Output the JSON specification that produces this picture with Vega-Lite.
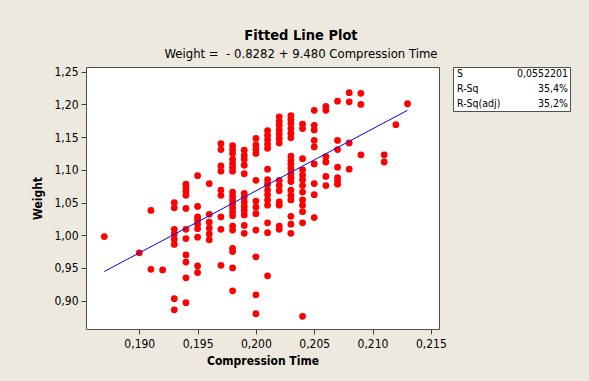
{
  "$schema": "https://vega.github.io/schema/vega-lite/v6.json",
  "autosize": {"type": "none"},
  "padding": {"left": 86, "top": 67, "right": 503, "bottom": 314},
  "background": "#EDE9DF",
  "title": {
    "text": "Fitted Line Plot",
    "subtitle": "Weight = \u00a0- 0.8282 + 9.480 Compression Time",
    "anchor": "middle",
    "frame": "bounds",
    "font": "DejaVu Sans Condensed",
    "fontSize": 14.5,
    "fontWeight": "bold",
    "color": "#000000",
    "subtitleFont": "DejaVu Sans Condensed",
    "subtitleFontSize": 13,
    "subtitleColor": "#000000",
    "subtitlePadding": 5,
    "offset": 3
  },
  "datasets": {
    "points": [
      {"CompressionTime": 0.187, "Weight": 0.998},
      {"CompressionTime": 0.190, "Weight": 0.973},
      {"CompressionTime": 0.191, "Weight": 1.038},
      {"CompressionTime": 0.191, "Weight": 0.948},
      {"CompressionTime": 0.192, "Weight": 0.947},
      {"CompressionTime": 0.193, "Weight": 1.050},
      {"CompressionTime": 0.193, "Weight": 1.042},
      {"CompressionTime": 0.193, "Weight": 1.009},
      {"CompressionTime": 0.193, "Weight": 1.002},
      {"CompressionTime": 0.193, "Weight": 0.994},
      {"CompressionTime": 0.193, "Weight": 0.986},
      {"CompressionTime": 0.193, "Weight": 0.903},
      {"CompressionTime": 0.193, "Weight": 0.886},
      {"CompressionTime": 0.194, "Weight": 1.078},
      {"CompressionTime": 0.194, "Weight": 1.073},
      {"CompressionTime": 0.194, "Weight": 1.067},
      {"CompressionTime": 0.194, "Weight": 1.061},
      {"CompressionTime": 0.194, "Weight": 1.041},
      {"CompressionTime": 0.194, "Weight": 1.009},
      {"CompressionTime": 0.194, "Weight": 0.995},
      {"CompressionTime": 0.194, "Weight": 0.970},
      {"CompressionTime": 0.194, "Weight": 0.959},
      {"CompressionTime": 0.194, "Weight": 0.935},
      {"CompressionTime": 0.194, "Weight": 0.897},
      {"CompressionTime": 0.195, "Weight": 1.091},
      {"CompressionTime": 0.195, "Weight": 1.044},
      {"CompressionTime": 0.195, "Weight": 1.028},
      {"CompressionTime": 0.195, "Weight": 1.023},
      {"CompressionTime": 0.195, "Weight": 1.017},
      {"CompressionTime": 0.195, "Weight": 1.010},
      {"CompressionTime": 0.195, "Weight": 0.997},
      {"CompressionTime": 0.195, "Weight": 0.953},
      {"CompressionTime": 0.195, "Weight": 0.943},
      {"CompressionTime": 0.196, "Weight": 1.079},
      {"CompressionTime": 0.196, "Weight": 1.032},
      {"CompressionTime": 0.196, "Weight": 1.020},
      {"CompressionTime": 0.196, "Weight": 1.011},
      {"CompressionTime": 0.196, "Weight": 1.002},
      {"CompressionTime": 0.196, "Weight": 0.993},
      {"CompressionTime": 0.197, "Weight": 1.140},
      {"CompressionTime": 0.197, "Weight": 1.131},
      {"CompressionTime": 0.197, "Weight": 1.106},
      {"CompressionTime": 0.197, "Weight": 1.098},
      {"CompressionTime": 0.197, "Weight": 1.069},
      {"CompressionTime": 0.197, "Weight": 1.061},
      {"CompressionTime": 0.197, "Weight": 1.028},
      {"CompressionTime": 0.197, "Weight": 1.009},
      {"CompressionTime": 0.197, "Weight": 0.954},
      {"CompressionTime": 0.198, "Weight": 1.137},
      {"CompressionTime": 0.198, "Weight": 1.131},
      {"CompressionTime": 0.198, "Weight": 1.125},
      {"CompressionTime": 0.198, "Weight": 1.116},
      {"CompressionTime": 0.198, "Weight": 1.110},
      {"CompressionTime": 0.198, "Weight": 1.104},
      {"CompressionTime": 0.198, "Weight": 1.098},
      {"CompressionTime": 0.198, "Weight": 1.066},
      {"CompressionTime": 0.198, "Weight": 1.060},
      {"CompressionTime": 0.198, "Weight": 1.054},
      {"CompressionTime": 0.198, "Weight": 1.048},
      {"CompressionTime": 0.198, "Weight": 1.042},
      {"CompressionTime": 0.198, "Weight": 1.036},
      {"CompressionTime": 0.198, "Weight": 1.030},
      {"CompressionTime": 0.198, "Weight": 1.014},
      {"CompressionTime": 0.198, "Weight": 1.008},
      {"CompressionTime": 0.198, "Weight": 0.980},
      {"CompressionTime": 0.198, "Weight": 0.975},
      {"CompressionTime": 0.198, "Weight": 0.950},
      {"CompressionTime": 0.198, "Weight": 0.915},
      {"CompressionTime": 0.199, "Weight": 1.130},
      {"CompressionTime": 0.199, "Weight": 1.122},
      {"CompressionTime": 0.199, "Weight": 1.116},
      {"CompressionTime": 0.199, "Weight": 1.107},
      {"CompressionTime": 0.199, "Weight": 1.094},
      {"CompressionTime": 0.199, "Weight": 1.064},
      {"CompressionTime": 0.199, "Weight": 1.058},
      {"CompressionTime": 0.199, "Weight": 1.051},
      {"CompressionTime": 0.199, "Weight": 1.044},
      {"CompressionTime": 0.199, "Weight": 1.038},
      {"CompressionTime": 0.199, "Weight": 1.031},
      {"CompressionTime": 0.199, "Weight": 1.015},
      {"CompressionTime": 0.199, "Weight": 1.003},
      {"CompressionTime": 0.200, "Weight": 1.148},
      {"CompressionTime": 0.200, "Weight": 1.138},
      {"CompressionTime": 0.200, "Weight": 1.131},
      {"CompressionTime": 0.200, "Weight": 1.125},
      {"CompressionTime": 0.200, "Weight": 1.084},
      {"CompressionTime": 0.200, "Weight": 1.052},
      {"CompressionTime": 0.200, "Weight": 1.043},
      {"CompressionTime": 0.200, "Weight": 1.033},
      {"CompressionTime": 0.200, "Weight": 1.008},
      {"CompressionTime": 0.200, "Weight": 0.967},
      {"CompressionTime": 0.200, "Weight": 0.909},
      {"CompressionTime": 0.200, "Weight": 0.880},
      {"CompressionTime": 0.201, "Weight": 1.160},
      {"CompressionTime": 0.201, "Weight": 1.153},
      {"CompressionTime": 0.201, "Weight": 1.146},
      {"CompressionTime": 0.201, "Weight": 1.139},
      {"CompressionTime": 0.201, "Weight": 1.133},
      {"CompressionTime": 0.201, "Weight": 1.101},
      {"CompressionTime": 0.201, "Weight": 1.085},
      {"CompressionTime": 0.201, "Weight": 1.078},
      {"CompressionTime": 0.201, "Weight": 1.069},
      {"CompressionTime": 0.201, "Weight": 1.062},
      {"CompressionTime": 0.201, "Weight": 1.054},
      {"CompressionTime": 0.201, "Weight": 1.046},
      {"CompressionTime": 0.201, "Weight": 1.019},
      {"CompressionTime": 0.201, "Weight": 1.004},
      {"CompressionTime": 0.201, "Weight": 0.938},
      {"CompressionTime": 0.202, "Weight": 1.181},
      {"CompressionTime": 0.202, "Weight": 1.174},
      {"CompressionTime": 0.202, "Weight": 1.168},
      {"CompressionTime": 0.202, "Weight": 1.161},
      {"CompressionTime": 0.202, "Weight": 1.155},
      {"CompressionTime": 0.202, "Weight": 1.148},
      {"CompressionTime": 0.202, "Weight": 1.141},
      {"CompressionTime": 0.202, "Weight": 1.084},
      {"CompressionTime": 0.202, "Weight": 1.076},
      {"CompressionTime": 0.202, "Weight": 1.068},
      {"CompressionTime": 0.202, "Weight": 1.051},
      {"CompressionTime": 0.202, "Weight": 1.046},
      {"CompressionTime": 0.202, "Weight": 1.014},
      {"CompressionTime": 0.202, "Weight": 1.009},
      {"CompressionTime": 0.203, "Weight": 1.183},
      {"CompressionTime": 0.203, "Weight": 1.177},
      {"CompressionTime": 0.203, "Weight": 1.171},
      {"CompressionTime": 0.203, "Weight": 1.163},
      {"CompressionTime": 0.203, "Weight": 1.156},
      {"CompressionTime": 0.203, "Weight": 1.149},
      {"CompressionTime": 0.203, "Weight": 1.121},
      {"CompressionTime": 0.203, "Weight": 1.115},
      {"CompressionTime": 0.203, "Weight": 1.109},
      {"CompressionTime": 0.203, "Weight": 1.102},
      {"CompressionTime": 0.203, "Weight": 1.094},
      {"CompressionTime": 0.203, "Weight": 1.088},
      {"CompressionTime": 0.203, "Weight": 1.082},
      {"CompressionTime": 0.203, "Weight": 1.069},
      {"CompressionTime": 0.203, "Weight": 1.061},
      {"CompressionTime": 0.203, "Weight": 1.054},
      {"CompressionTime": 0.203, "Weight": 1.029},
      {"CompressionTime": 0.203, "Weight": 1.017},
      {"CompressionTime": 0.203, "Weight": 1.003},
      {"CompressionTime": 0.204, "Weight": 1.170},
      {"CompressionTime": 0.204, "Weight": 1.163},
      {"CompressionTime": 0.204, "Weight": 1.117},
      {"CompressionTime": 0.204, "Weight": 1.100},
      {"CompressionTime": 0.204, "Weight": 1.092},
      {"CompressionTime": 0.204, "Weight": 1.085},
      {"CompressionTime": 0.204, "Weight": 1.076},
      {"CompressionTime": 0.204, "Weight": 1.066},
      {"CompressionTime": 0.204, "Weight": 1.054},
      {"CompressionTime": 0.204, "Weight": 1.046},
      {"CompressionTime": 0.204, "Weight": 1.036},
      {"CompressionTime": 0.204, "Weight": 1.019},
      {"CompressionTime": 0.204, "Weight": 0.876},
      {"CompressionTime": 0.205, "Weight": 1.191},
      {"CompressionTime": 0.205, "Weight": 1.168},
      {"CompressionTime": 0.205, "Weight": 1.161},
      {"CompressionTime": 0.205, "Weight": 1.145},
      {"CompressionTime": 0.205, "Weight": 1.135},
      {"CompressionTime": 0.205, "Weight": 1.109},
      {"CompressionTime": 0.205, "Weight": 1.079},
      {"CompressionTime": 0.205, "Weight": 1.062},
      {"CompressionTime": 0.205, "Weight": 1.027},
      {"CompressionTime": 0.206, "Weight": 1.197},
      {"CompressionTime": 0.206, "Weight": 1.191},
      {"CompressionTime": 0.206, "Weight": 1.120},
      {"CompressionTime": 0.206, "Weight": 1.112},
      {"CompressionTime": 0.206, "Weight": 1.090},
      {"CompressionTime": 0.206, "Weight": 1.076},
      {"CompressionTime": 0.207, "Weight": 1.205},
      {"CompressionTime": 0.207, "Weight": 1.145},
      {"CompressionTime": 0.207, "Weight": 1.131},
      {"CompressionTime": 0.207, "Weight": 1.104},
      {"CompressionTime": 0.207, "Weight": 1.088},
      {"CompressionTime": 0.207, "Weight": 1.083},
      {"CompressionTime": 0.207, "Weight": 1.078},
      {"CompressionTime": 0.208, "Weight": 1.218},
      {"CompressionTime": 0.208, "Weight": 1.204},
      {"CompressionTime": 0.208, "Weight": 1.141},
      {"CompressionTime": 0.208, "Weight": 1.101},
      {"CompressionTime": 0.209, "Weight": 1.217},
      {"CompressionTime": 0.209, "Weight": 1.200},
      {"CompressionTime": 0.209, "Weight": 1.123},
      {"CompressionTime": 0.211, "Weight": 1.123},
      {"CompressionTime": 0.211, "Weight": 1.112},
      {"CompressionTime": 0.212, "Weight": 1.169},
      {"CompressionTime": 0.213, "Weight": 1.201}
    ],
    "fit": [
      {"CompressionTime": 0.187, "Weight": 0.9446},
      {"CompressionTime": 0.213, "Weight": 1.1910}
    ],
    "stats": [
      {"stat": "S", "value": "0,0552201"},
      {"stat": "R-Sq", "value": "35,4%"},
      {"stat": "R-Sq(adj)", "value": "35,2%"}
    ]
  },
  "spacing": 14,
  "bounds": "flush",
  "hconcat": [
    {
      "width": 353,
      "height": 262,
      "view": {"fill": "#FFFFFF", "stroke": "#505050", "strokeWidth": 1},
      "encoding": {
        "x": {
          "field": "CompressionTime",
          "type": "quantitative",
          "title": "Compression Time",
          "scale": {"domain": [0.18543, 0.2157], "nice": false, "zero": false},
          "axis": {
            "values": [0.19, 0.195, 0.2, 0.205, 0.21, 0.215],
            "labelExpr": "replace(format(datum.value, '.3f'), '.', ',')",
            "labelPadding": 4,
            "titlePadding": 6
          }
        },
        "y": {
          "field": "Weight",
          "type": "quantitative",
          "title": "Weight",
          "scale": {"domain": [0.8567, 1.2572], "nice": false, "zero": false},
          "axis": {
            "values": [0.9, 0.95, 1.0, 1.05, 1.1, 1.15, 1.2, 1.25],
            "labelExpr": "replace(format(datum.value, '.2f'), '.', ',')",
            "labelPadding": 3,
            "titlePadding": 9
          }
        }
      },
      "layer": [
        {
          "data": {"name": "points"},
          "mark": {"type": "circle", "color": "#FF0000", "opacity": 1, "size": 46}
        },
        {
          "data": {"name": "fit"},
          "mark": {"type": "line", "color": "#0000FF", "strokeWidth": 1}
        }
      ]
    },
    {
      "width": 117,
      "height": 44,
      "view": {"fill": "#FFFFFF", "stroke": "#505050", "strokeWidth": 1},
      "data": {"name": "stats"},
      "encoding": {
        "y": {"field": "stat", "type": "nominal", "sort": ["S", "R-Sq", "R-Sq(adj)"], "axis": null}
      },
      "layer": [
        {
          "mark": {"type": "text", "align": "left", "dx": 4, "font": "DejaVu Sans Condensed", "fontSize": 10.5, "color": "#000000"},
          "encoding": {
            "x": {"datum": "L", "type": "nominal", "scale": {"type": "point", "domain": ["L", "R"], "padding": 0}, "axis": null},
            "text": {"field": "stat"}
          }
        },
        {
          "mark": {"type": "text", "align": "right", "dx": -2, "font": "DejaVu Sans Condensed", "fontSize": 10.5, "color": "#000000"},
          "encoding": {
            "x": {"datum": "R", "type": "nominal", "axis": null},
            "text": {"field": "value"}
          }
        }
      ]
    }
  ],
  "config": {
    "axis": {
      "domain": false,
      "grid": false,
      "ticks": true,
      "tickColor": "#404040",
      "tickSize": 5,
      "labelFont": "DejaVu Sans Condensed",
      "labelFontSize": 12,
      "labelColor": "#000000",
      "titleFont": "DejaVu Sans Condensed",
      "titleFontSize": 12,
      "titleFontWeight": "bold",
      "titleColor": "#000000"
    }
  }
}
